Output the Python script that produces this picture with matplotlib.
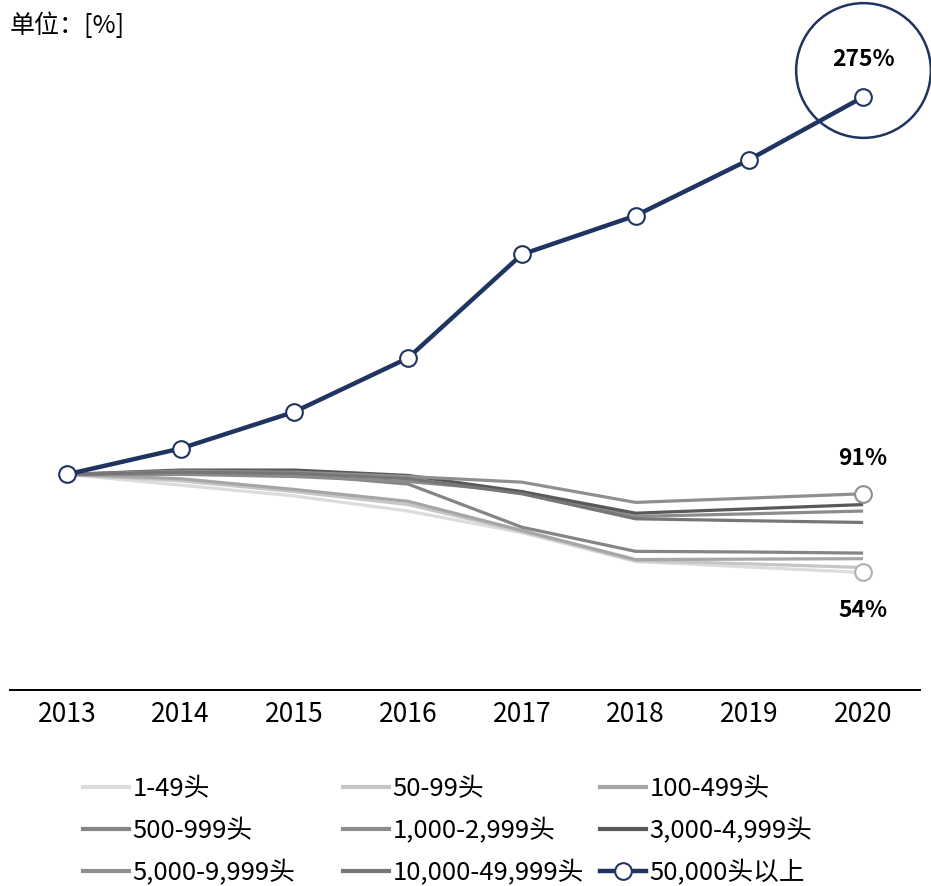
import numpy as np
import matplotlib.pyplot as plt
import matplotlib.transforms as mtrans
from matplotlib.lines import Line2D

plt.rcParams['font.family'] = ['Noto Sans CJK SC', 'DejaVu Sans']

# data: index, 2013 = 100%
years = [2013, 2014, 2015, 2016, 2017, 2018, 2019, 2020]
labels = ['1-49头', '50-99头', '100-499头',
          '500-999头', '1,000-2,999头', '3,000-4,999头',
          '5,000-9,999头', '10,000-49,999头', '50,000头以上']
s_1_49 = [100, 95, 90, 83, 73, 59.6, 57, 54.5]
s_50_99 = [100, 97, 92, 86, 73.5, 60, 58.5, 56.8]
s_100_499 = [100, 98, 93, 87.5, 74, 60.5, 60.7, 60.9]
s_500_999 = [100, 101, 100, 95.5, 75.5, 64.3, 64, 63.5]
s_1000_2999 = [100, 100, 99, 96.7, 92, 80.5, 81.7, 83]
s_3000_4999 = [100, 102, 102, 99.5, 92, 82, 84, 86]
s_5000_9999 = [100, 101.5, 101, 99, 96.4, 87, 89, 91]
s_10000_49999 = [100, 101, 100.5, 98, 91, 79.4, 78.5, 77.7]
s_50000 = [100, 112, 129, 154, 202, 220, 246, 275]

grays = ['#dcdcdc', '#c6c6c6', '#a6a6a6',
         '#858585', '#8c8c8c', '#595959',
         '#8f8f8f', '#767676']
navy = '#1f3460'

fig = plt.figure(figsize=(9.31, 8.86), dpi=100)
ax = fig.add_axes([10/931, 196/886, 910/931, 690/886])

series = [s_1_49, s_50_99, s_100_499, s_500_999, s_1000_2999,
          s_3000_4999, s_5000_9999, s_10000_49999]
for s, c in zip(series, grays):
    ax.plot(years, s, color=c, lw=2.3, solid_capstyle='butt', zorder=2)

ax.plot(years, s_50000, color=navy, lw=3.2, marker='o', ms=12,
        mfc='white', mec=navy, mew=1.5, zorder=5)

# end markers on max / min of the gray group
ax.plot(years[-1], s_5000_9999[-1], 'o', ms=12, mfc='white', mec='#8f8f8f', mew=1.5, zorder=4)
ax.plot(years[-1], s_1_49[-1], 'o', ms=12, mfc='white', mec='#b0b0b0', mew=1.5, zorder=4)

# big circle round the last point
tr = mtrans.offset_copy(ax.transData, fig=fig, x=0, y=27, units='dots')
ax.plot(years[-1], s_50000[-1], 'o', ms=97, mfc='none', mec=navy, mew=1.8,
        transform=tr, zorder=6, clip_on=False)

ax.annotate(f'{s_50000[-1]}%', (years[-1], s_50000[-1]), xytext=(0, 38),
            textcoords='offset pixels', ha='center', va='center',
            fontsize=16.5, fontweight='bold')
ax.annotate(f'{s_5000_9999[-1]}%', (years[-1], s_5000_9999[-1]), xytext=(0, 35),
            textcoords='offset pixels', ha='center', va='center',
            fontsize=16.5, fontweight='bold')
ax.annotate(f'{round(s_1_49[-1])}%', (years[-1], s_1_49[-1]), xytext=(0, -38),
            textcoords='offset pixels', ha='center', va='center',
            fontsize=16.5, fontweight='bold')

ax.set_xlim(2012.5, 2020.5)
ax.set_ylim(0, 320)
ax.set_xticks(years)
ax.set_xticklabels([str(y) for y in years], fontsize=19)
ax.set_yticks([])
ax.tick_params(axis='x', length=0, pad=8)
for sp in ['top', 'left', 'right']:
    ax.spines[sp].set_visible(False)
ax.spines['bottom'].set_linewidth(1.4)
ax.spines['bottom'].set_color('black')

fig.text(10/931, 1 - 26/886, '单位：[%]', fontsize=18, va='center', ha='left')

# legend: three fixed columns
handles = [Line2D([], [], color=c, lw=3) for c in grays]
handles.append(Line2D([], [], color=navy, lw=3.2, marker='o', ms=12,
                      mfc='white', mec=navy, mew=1.5))
col_x = [83, 343, 600]
for j in range(3):
    idx = [j, j + 3, j + 6]
    fig.legend([handles[i] for i in idx], [labels[i] for i in idx],
               loc='upper left', bbox_to_anchor=(col_x[j]/931, 1 - 776/886),
               frameon=False, fontsize=18.5, handlelength=1.8, handletextpad=0.12,
               labelspacing=0.62, borderpad=0, borderaxespad=0)

fig.savefig('out.png', dpi=100)
